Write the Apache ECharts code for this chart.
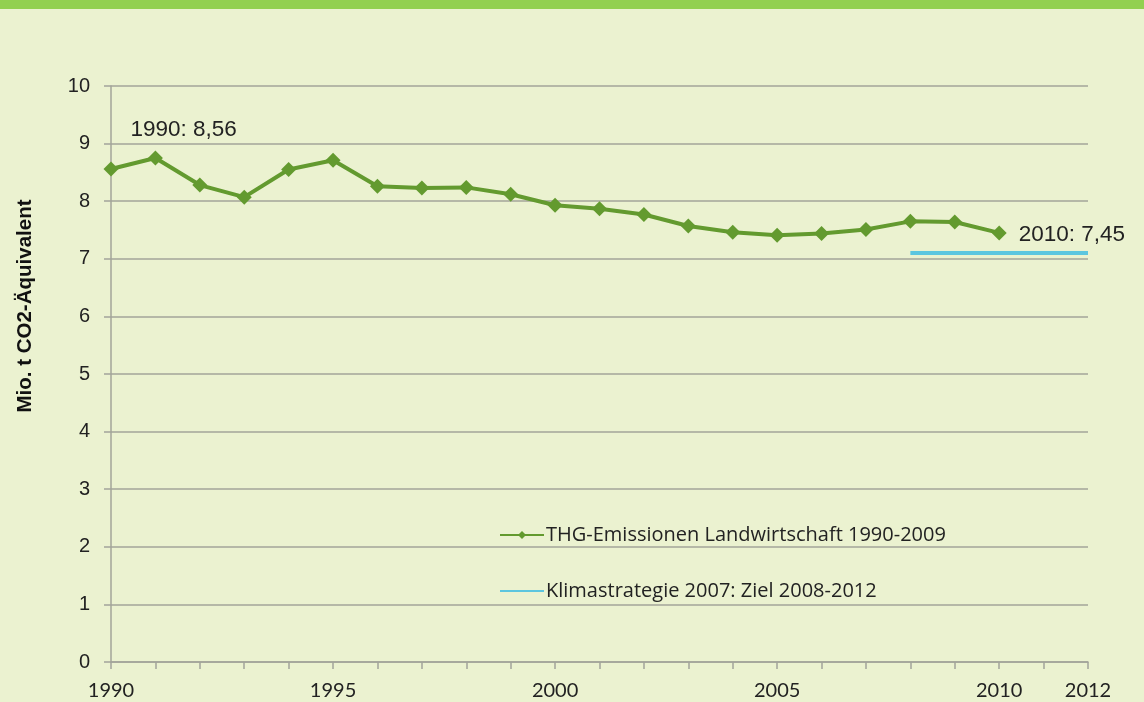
<!DOCTYPE html>
<html>
<head>
<meta charset="utf-8">
<script src="https://cdn.jsdelivr.net/npm/echarts@6/dist/echarts.min.js"></script>
<style>
  html, body { margin: 0; padding: 0; background: #ebf2d0; }
  #chart { width: 1144px; height: 702px; }
</style>
</head>
<body>
<div id="chart"></div>
<script>
// Daten
const years = [1990, 1991, 1992, 1993, 1994, 1995, 1996, 1997, 1998, 1999, 2000,
               2001, 2002, 2003, 2004, 2005, 2006, 2007, 2008, 2009, 2010];
const emissions = [8.56, 8.75, 8.28, 8.07, 8.55, 8.71, 8.26, 8.23, 8.24, 8.12, 7.93,
                   7.87, 7.77, 7.57, 7.46, 7.41, 7.44, 7.51, 7.65, 7.64, 7.45];
const targetYears = [2008, 2012];
const targetValue = 7.1;
const xLabelYears = [1990, 1995, 2000, 2005, 2010, 2012];
const seriesNames = ['THG-Emissionen Landwirtschaft 1990-2009', 'Klimastrategie 2007: Ziel 2008-2012'];

const GREEN = '#639a2f';
const BLUE = '#5cc6df';
const GRID = '#a3a49a';

const chart = echarts.init(document.getElementById('chart'), null, { renderer: 'canvas' });

// Beschriftung nur am ersten und letzten Punkt
const lineData = years.map((y, i) => {
    const item = { value: [y, emissions[i]] };
    if (y === 1990) {
        item.label = { show: true, position: 'right', distance: 0, offset: [12, -39] };
    }
    if (y === 2010) {
        item.label = { show: true, position: 'right', distance: 0, offset: [12, 2] };
    }
    return item;
});

const option = {
    backgroundColor: '#ebf2d0',
    animation: false,
    grid: { left: 111, right: 56, top: 86, bottom: 40 },
    graphic: [
        { type: 'rect', left: 0, top: 0, shape: { width: 1144, height: 9 }, style: { fill: '#92d050' } },
        {
            type: 'text', x: 25, y: 306, rotation: Math.PI / 2,
            style: {
                text: 'Mio. t CO2-Äquivalent', fill: '#111', align: 'center', verticalAlign: 'middle',
                font: 'bold 20.5px "Liberation Sans", Arial, sans-serif'
            }
        }
    ],
    legend: {
        orient: 'vertical',
        left: 494,
        top: 519,
        itemGap: 34,
        itemWidth: 44,
        itemHeight: 10,
        textStyle: { fontFamily: 'Open Sans', fontSize: 20, lineHeight: 22, color: '#222', padding: [0, 0, 0, -3] },
        data: [
            { name: seriesNames[0] },
            { name: seriesNames[1], itemStyle: { opacity: 0 } }
        ]
    },
    xAxis: {
        type: 'value',
        min: 1990,
        max: 2012,
        interval: 1,
        splitLine: { show: false },
        axisLine: { lineStyle: { color: GRID, width: 1.5 } },
        axisTick: { show: true, length: 7, lineStyle: { color: GRID, width: 1.5 } },
        axisLabel: {
            margin: 19,
            fontFamily: 'Lato', fontSize: 20, color: '#222',
            formatter: v => xLabelYears.includes(v) ? String(v) : ''
        }
    },
    yAxis: {
        type: 'value',
        min: 0,
        max: 10,
        interval: 1,
        axisLine: { show: true, lineStyle: { color: GRID, width: 1.5 } },
        axisTick: { show: true, inside: false, length: 7, lineStyle: { color: GRID, width: 1.5 } },
        splitLine: { lineStyle: { color: GRID, width: 1.5 } },
        axisLabel: { margin: 21, fontFamily: 'Liberation Sans', fontSize: 20, color: '#222' }
    },
    series: [
        {
            name: seriesNames[0],
            type: 'line',
            data: lineData,
            symbol: 'diamond',
            symbolSize: 15,
            itemStyle: { color: GREEN },
            lineStyle: { color: GREEN, width: 4 },
            label: {
                show: false,
                fontFamily: 'Liberation Sans', fontSize: 22.5, color: '#222',
                formatter: p => p.value[0] + ': ' + p.value[1].toFixed(2).replace('.', ',')
            },
            z: 3
        },
        {
            name: seriesNames[1],
            type: 'line',
            data: targetYears.map(y => [y, targetValue]),
            symbol: 'none',
            itemStyle: { color: BLUE },
            lineStyle: { color: BLUE, width: 4 },
            z: 2
        }
    ]
};

chart.setOption(option);
</script>
</body>
</html>
